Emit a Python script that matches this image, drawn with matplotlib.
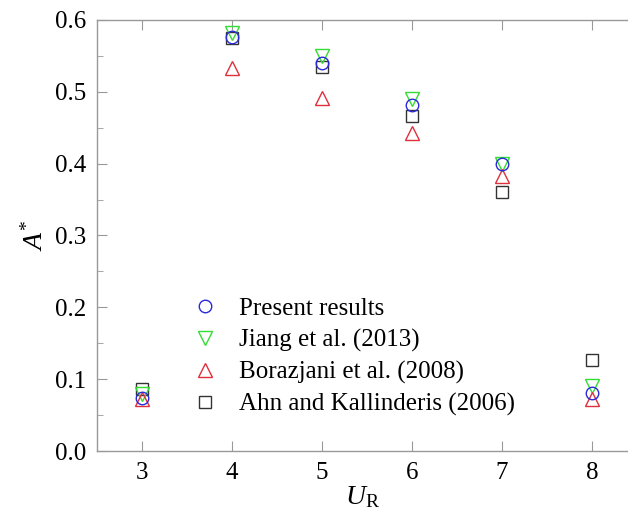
import matplotlib
matplotlib.use("Agg")
import matplotlib.pyplot as plt
from matplotlib.ticker import MultipleLocator

plt.rcParams['font.family'] = ['Liberation Serif', 'DejaVu Serif']
plt.rcParams['mathtext.fontset'] = 'custom'
plt.rcParams['mathtext.rm'] = 'Liberation Serif'
plt.rcParams['mathtext.it'] = 'Liberation Serif:italic'

UR = [3, 4, 5, 6, 7, 8]
present = [0.074, 0.577, 0.540, 0.481, 0.399, 0.081]
jiang = [0.079, 0.582, 0.550, 0.490, 0.400, 0.090]
borazjani = [0.072, 0.533, 0.492, 0.443, 0.383, 0.072]
ahn = [0.087, 0.575, 0.535, 0.466, 0.361, 0.126]

labels = ["Present results", "Jiang et al. (2013)", "Borazjani et al. (2008)",
          "Ahn and Kallinderis (2006)"]

fig = plt.figure(figsize=(6.28, 5.14), dpi=100)
ax = fig.add_axes([97/628, 1 - 451/514, (628 - 97)/628, (451 - 20)/514])

ms = 9
ax.plot(UR, present, 'o', ls='none', mfc='none', mec='#2a2ad8', mew=1.0, ms=ms, label=labels[0], zorder=5)
ax.plot(UR, jiang, 'v', ls='none', mfc='none', mec='#33dd33', mew=1.0, ms=ms+1, label=labels[1], zorder=4)
ax.plot(UR, borazjani, '^', ls='none', mfc='none', mec='#e0303c', mew=1.0, ms=ms+1, label=labels[2], zorder=4)
ax.plot(UR, ahn, 's', ls='none', mfc='none', mec='#333333', mew=1.0, ms=ms-1, label=labels[3], zorder=3)

ax.set_xlim(2.5, 8.4)
ax.set_ylim(0.0, 0.6)
ax.xaxis.set_major_locator(MultipleLocator(1))
ax.yaxis.set_major_locator(MultipleLocator(0.1))
ax.yaxis.set_minor_locator(MultipleLocator(0.05))
ax.yaxis.set_major_formatter(plt.FormatStrFormatter('%.1f'))

for s in ax.spines.values():
    s.set_color('#999999')
    s.set_linewidth(1.0)
ax.spines['right'].set_visible(False)
ax.tick_params(which='both', direction='in', top=True, right=False, color='#999999',
               labelsize=18, labelcolor='black')
ax.tick_params(which='major', length=7, pad=8)
ax.tick_params(which='minor', length=4)

ax.set_xlabel(r'$U_{\mathrm{R}}$', fontsize=20, labelpad=0)
ax.set_ylabel(r'$A^{*}$', fontsize=20, labelpad=4)

leg = ax.legend(loc='upper left', bbox_to_anchor=(0.145, 0.385), frameon=False,
                fontsize=18, handletextpad=0.6, labelspacing=0.36, borderpad=0,
                handlelength=1.5)

fig.savefig('out.png', dpi=100)
